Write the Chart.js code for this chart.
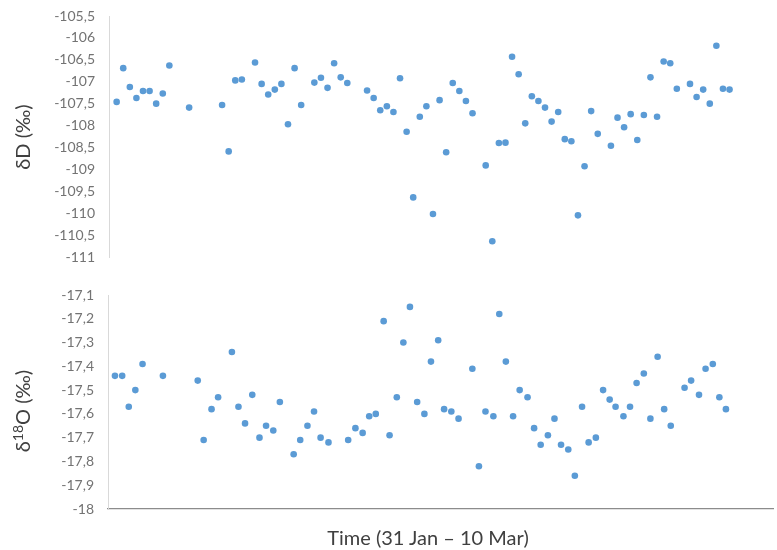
<!DOCTYPE html>
<html>
<head>
<meta charset="utf-8">
<script src="https://cdn.jsdelivr.net/npm/chart.js@4.4.1/dist/chart.umd.min.js"></script>
<style>
  html, body { margin: 0; padding: 0; background: #fff; }
  #wrap { position: relative; width: 777px; height: 550px; overflow: hidden; font-family: Lato, 'DejaVu Sans', sans-serif; }
  .box { position: absolute; left: 0; width: 777px; height: 270px; }
  .title { position: absolute; color: #404040; font-size: 20px; white-space: nowrap; transform: translate(-50%, -50%); }
  .ytitle { transform: translate(-50%, -50%) rotate(-90deg); }
  .title sup { font-size: 14px; vertical-align: 7px; line-height: 0; }
</style>
</head>
<body>
<div id="wrap">
  <div class="box" style="top:0"><canvas id="dDChart"></canvas></div>
  <div class="box" style="top:280px"><canvas id="d18OChart"></canvas></div>
  <div class="title ytitle" style="left:22px; top:137px">δD (‰)</div>
  <div class="title ytitle" style="left:22px; top:411px">δ<sup>18</sup>O (‰)</div>
  <div class="title" style="left:428px; top:537px">Time (31 Jan – 10 Mar)</div>
</div>
<script>
// sample number along the 31 Jan - 10 Mar period
const dDTime = [0, 1, 2, 3, 4, 5, 6, 7, 8, 11, 16, 17, 18, 19, 21, 22, 23, 24, 25, 26, 27, 28,
    30, 31, 32, 33, 34, 35, 38, 39, 40, 41, 42, 43, 44, 45, 46, 47, 48, 49, 50, 51, 52, 53, 54,
    56, 57, 58, 59, 60, 61, 62, 63, 64, 65, 66, 67, 68, 69, 70, 71, 72, 73, 75, 76, 77, 78, 79,
    80, 81, 82, 83, 84, 85, 87, 88, 89, 90, 91, 92, 93];
const dDValues = [-107.46, -106.69, -107.12, -107.37, -107.21, -107.21, -107.50, -107.27, -106.63,
    -107.59, -107.53, -108.59, -106.97, -106.95, -106.56, -107.05, -107.29, -107.18, -107.05,
    -107.97, -106.69, -107.53, -107.02, -106.91, -107.14, -106.58, -106.90, -107.03, -107.20,
    -107.37, -107.65, -107.56, -107.69, -106.92, -108.14, -109.64, -107.80, -107.56, -110.02,
    -107.42, -108.61, -107.03, -107.21, -107.44, -107.72, -108.91, -110.64, -108.40, -108.39,
    -106.43, -106.83, -107.95, -107.33, -107.44, -107.59, -107.91, -107.69, -108.31, -108.36,
    -110.05, -108.93, -107.67, -108.19, -108.46, -107.82, -108.04, -107.74, -108.33, -107.76,
    -106.90, -107.80, -106.54, -106.58, -107.16, -107.05, -107.35, -107.18, -107.50, -106.18,
    -107.16, -107.18];

const d18OTime = [0, 1.1, 2.1, 3.1, 4.2, 7.3, 12.6, 13.5, 14.7, 15.7, 17.8, 18.8, 19.8, 20.9, 22,
    23, 24.1, 25.1, 27.2, 28.2, 29.3, 30.3, 31.3, 32.5, 35.5, 36.6, 37.7, 38.7, 39.7, 40.9, 41.8,
    42.9, 43.9, 44.9, 46, 47.1, 48.1, 49.2, 50.1, 51.2, 52.3, 54.4, 55.4, 56.4, 57.6, 58.5, 59.5,
    60.6, 61.6, 62.8, 63.8, 64.8, 65.9, 66.9, 67.9, 69, 70, 71.1, 72.1, 73.2, 74.3, 75.3, 76.2,
    77.4, 78.4, 79.4, 80.5, 81.5, 82.6, 83.6, 84.6, 86.7, 87.7, 88.9, 89.9, 91, 92, 93];
const d18OValues = [-17.44, -17.44, -17.57, -17.50, -17.39, -17.44, -17.46, -17.71, -17.58, -17.53,
    -17.34, -17.57, -17.64, -17.52, -17.70, -17.65, -17.67, -17.55, -17.77, -17.71, -17.65,
    -17.59, -17.70, -17.72, -17.71, -17.66, -17.68, -17.61, -17.60, -17.21, -17.69, -17.53,
    -17.30, -17.15, -17.55, -17.60, -17.38, -17.29, -17.58, -17.59, -17.62, -17.41, -17.82,
    -17.59, -17.61, -17.18, -17.38, -17.61, -17.50, -17.53, -17.66, -17.73, -17.69, -17.62,
    -17.73, -17.75, -17.86, -17.57, -17.72, -17.70, -17.50, -17.54, -17.57, -17.61, -17.57,
    -17.47, -17.43, -17.62, -17.36, -17.58, -17.65, -17.49, -17.46, -17.52, -17.41, -17.39,
    -17.53, -17.58];

// axis ranges
const dDRange = [-111, -105.5, 0.5];
const d18ORange = [-18, -17.1, 0.1];

const DOT = '#5B9BD5';
const FONT = { family: "Lato, 'DejaVu Sans', sans-serif", size: 14 };

// excel style decimal comma
function commaLabel(v) {
    return String(Math.round(v * 10) / 10).replace('.', ',');
}

function makeChart(id, times, values, range, xMin, xMax, opts) {
    return new Chart(document.getElementById(id), {
        type: 'scatter',
        data: {
            datasets: [{
                data: times.map((t, i) => ({ x: t, y: values[i] })),
                backgroundColor: DOT,
                borderColor: DOT,
                borderWidth: 0,
                pointRadius: 3.3,
                pointHoverRadius: 3.3
            }]
        },
        options: {
            responsive: false,
            animation: false,
            devicePixelRatio: 1,
            layout: { padding: opts.padding },
            plugins: { legend: { display: false }, tooltip: { enabled: false } },
            scales: {
                x: {
                    type: 'linear',
                    min: xMin,
                    max: xMax,
                    display: opts.showX,
                    grid: { display: false },
                    ticks: { display: false },
                    border: { display: true, color: '#8c8c8c', width: 1.2 },
                    afterFit: s => { s.height = opts.xHeight; s.paddingLeft = 0; s.paddingRight = 0; }
                },
                y: {
                    min: range[0],
                    max: range[1],
                    grid: { display: false, drawTicks: false },
                    border: { display: true, color: '#d9d9d9', width: 1 },
                    ticks: {
                        stepSize: range[2],
                        padding: 14,
                        color: '#737373',
                        font: FONT,
                        callback: commaLabel
                    },
                    // tick padding would otherwise push the plot area in at top and bottom
                    afterFit: s => { s.width = opts.yWidth; s.paddingTop = 0; s.paddingBottom = 0; }
                }
            }
        }
    });
}

function sizeCanvas(id) {
    const c = document.getElementById(id);
    c.width = 777; c.height = 270;
    c.style.width = '777px'; c.style.height = '270px';
}
sizeCanvas('dDChart');
sizeCanvas('d18OChart');

makeChart('dDChart', dDTime, dDValues, dDRange, -1.16, 99.7,
    { padding: { top: 16, bottom: 13, left: 0, right: 0 }, showX: false, xHeight: 0, yWidth: 109 });
makeChart('d18OChart', d18OTime, d18OValues, d18ORange, -1.06, 100.27,
    { padding: { top: 15, bottom: 0, left: 0, right: 0 }, showX: true, xHeight: 41, yWidth: 108 });
</script>
</body>
</html>
